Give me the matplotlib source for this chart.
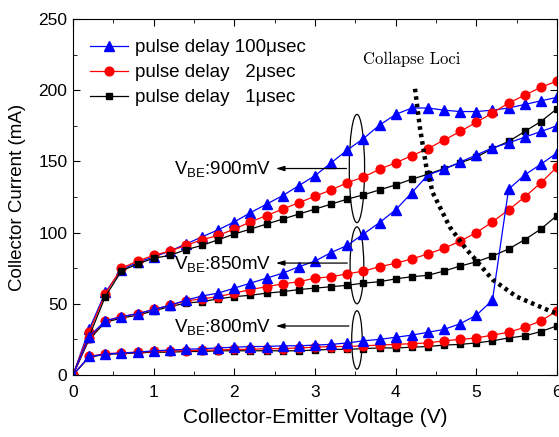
import matplotlib
matplotlib.use('Agg')
import matplotlib.pyplot as plt
import numpy as np
from matplotlib.patches import Ellipse
from matplotlib.ticker import MultipleLocator

plt.rcParams['font.family'] = ['Liberation Sans', 'DejaVu Sans']
plt.rcParams['mathtext.fontset'] = 'custom'
plt.rcParams['mathtext.rm'] = 'Liberation Sans'

# 集电极-发射极电压 (V)
vce = [0.0, 0.2, 0.4, 0.6, 0.8, 1.0, 1.2, 1.4, 1.6, 1.8, 2.0, 2.2, 2.4, 2.6, 2.8, 3.0,
       3.2, 3.4, 3.6, 3.8, 4.0, 4.2, 4.4, 4.6, 4.8, 5.0, 5.2, 5.4, 5.6, 5.8, 6.0]

# VBE = 900 mV
ic900_100us = [0, 32, 58, 74, 79, 83, 87, 92, 97, 102, 107.5, 114, 120, 126, 133, 140,
               149, 158, 166, 175.5, 183, 187.5, 187.5, 186, 185, 185, 186, 187.5, 190, 192.5, 195]
ic900_2us = [0, 30, 57, 75, 80, 84, 87, 91, 95, 98, 102.5, 107.5, 112, 116.5, 121, 125.5,
             130, 135, 139, 144.5, 149, 154, 159, 165, 171, 177.5, 184, 191, 196.5, 202, 206.5]
ic900_1us = [0, 27, 55, 73, 78, 82, 84, 88, 91, 95, 99, 102.5, 106, 109.5, 113, 116.5,
             120, 123.5, 126.5, 130, 133.5, 137.5, 141, 145, 149, 153, 159, 164, 171, 178, 187]

# VBE = 850 mV
ic850_100us = [0, 27, 38, 41, 43, 46, 49, 52.5, 55.5, 57.5, 61, 64.5, 68, 71.5, 76, 80,
               86, 91, 99, 107, 116, 128, 140.5, 144.5, 149.5, 154.5, 159.5, 163, 167, 171, 175]
ic850_2us = [0, 26, 38, 41, 43, 46, 49, 52, 53.5, 55, 57.5, 60, 62, 64, 65.5, 68,
             69, 71, 73, 76, 78.5, 81.5, 85, 89, 94, 100, 107.5, 116, 125, 135, 146]
ic850_1us = [0, 25, 37, 40, 42, 45, 48, 50.5, 51.5, 53.5, 55, 56, 57.5, 58.5, 60, 61,
             62, 63, 64.5, 65.5, 67.5, 69, 70, 73, 76.5, 79.5, 83.5, 88.5, 95, 102.5, 112]

# VBE = 800 mV
ic800_100us = [0, 13, 14.5, 15.5, 16, 17, 17.5, 18, 18.5, 19, 19.5, 20, 20, 20.5, 20.5, 21,
               21.5, 22.5, 24, 25, 26.5, 28, 30, 32, 36, 42, 52.5, 130.5, 140.5, 148, 156]
ic800_2us = [0, 13, 15, 15.5, 16, 16.5, 17, 17, 17.5, 17.5, 18, 18, 18.5, 18.5, 19, 19.5,
             20, 20, 20.5, 21, 21.5, 22, 22.5, 24, 25, 26, 28, 30, 33.5, 38, 45]
ic800_1us = [0, 12.5, 14.5, 15, 15.5, 16, 16, 16.5, 16.5, 17, 17, 17, 17, 17, 17, 17.5,
             18, 18, 18.5, 19, 19, 19.5, 20, 21, 21.5, 22.5, 24, 26, 27.5, 30.5, 34.5]

# Collapse Loci 虚线
loci_v = [4.24, 4.30, 4.38, 4.46, 4.67, 4.88, 4.96, 5.2, 5.5, 5.87, 6.0]
loci_i = [201, 174, 146, 128, 104, 88, 83, 67, 55, 46, 43]

fig = plt.figure(figsize=(5.59, 4.37), dpi=100)
ax = fig.add_axes([0.1306, 0.1419, 0.8658, 0.8146])

lw = 0.9
kw_b = dict(color='blue', marker='^', markersize=7, lw=lw)
kw_r = dict(color='red', marker='o', markersize=6.3, lw=lw)
kw_k = dict(color='black', marker='s', markersize=5, lw=lw)

ax.plot(vce, ic900_100us, label='pulse delay 100\u03bcsec', **kw_b)
ax.plot(vce, ic900_2us, label='pulse delay   2\u03bcsec', **kw_r)
ax.plot(vce, ic900_1us, label='pulse delay   1\u03bcsec', **kw_k)
ax.plot(vce, ic850_1us, **kw_k)
ax.plot(vce, ic850_2us, **kw_r)
ax.plot(vce, ic850_100us, **kw_b)
ax.plot(vce, ic800_1us, **kw_k)
ax.plot(vce, ic800_2us, **kw_r)
ax.plot(vce, ic800_100us, **kw_b)

ax.plot(loci_v, loci_i, color='black', lw=3.2, linestyle=(0, (0.8, 0.9)))
ax.text(4.2, 222, 'Collapse Loci', family=['cmr10', 'DejaVu Serif'], fontsize=12,
        ha='center', va='center')

# 椭圆和箭头
ell_y = [145, 77, 24.6]
ell_h = [76, 54, 41]
ell_w = [0.19, 0.17, 0.13]
for cy, h, w in zip(ell_y, ell_h, ell_w):
    ax.add_patch(Ellipse((3.52, cy), w, h, fill=False, ec='black', lw=0.9))

labels = ['900', '850', '800']
arrow_y = [145, 78.6, 34.4]
for lab, ay, ew in zip(labels, arrow_y, ell_w):
    ax.annotate('', xy=(2.48, ay), xytext=(3.52 - ew / 2, ay),
                arrowprops=dict(arrowstyle='-|>,head_length=0.5,head_width=0.15',
                                color='black', lw=0.9))
    ax.text(2.46, ay - 1, r'V$_{\mathrm{BE}}$:' + lab + 'mV', fontsize=13.5,
            ha='right', va='center')

ax.set_xlim(0, 6)
ax.set_ylim(0, 250)
ax.xaxis.set_major_locator(MultipleLocator(1))
ax.xaxis.set_minor_locator(MultipleLocator(0.5))
ax.yaxis.set_major_locator(MultipleLocator(50))
ax.yaxis.set_minor_locator(MultipleLocator(25))
ax.tick_params(which='both', direction='in', top=True, right=True, labelsize=12.5)
ax.tick_params(which='major', length=5, pad=4)
ax.tick_params(axis='x', which='major', pad=7)
ax.tick_params(which='minor', length=3)
ax.set_xlabel('Collector-Emitter Voltage (V)', fontsize=15, labelpad=6)
ax.set_ylabel('Collector Current (mA)', fontsize=13.5, labelpad=9)

ax.legend(loc='upper left', frameon=False, fontsize=13.5, handlelength=2.0,
          borderaxespad=0.0, labelspacing=0.42, handletextpad=0.4,
          bbox_to_anchor=(0.02, 0.965))

fig.savefig('out.png', dpi=100)
